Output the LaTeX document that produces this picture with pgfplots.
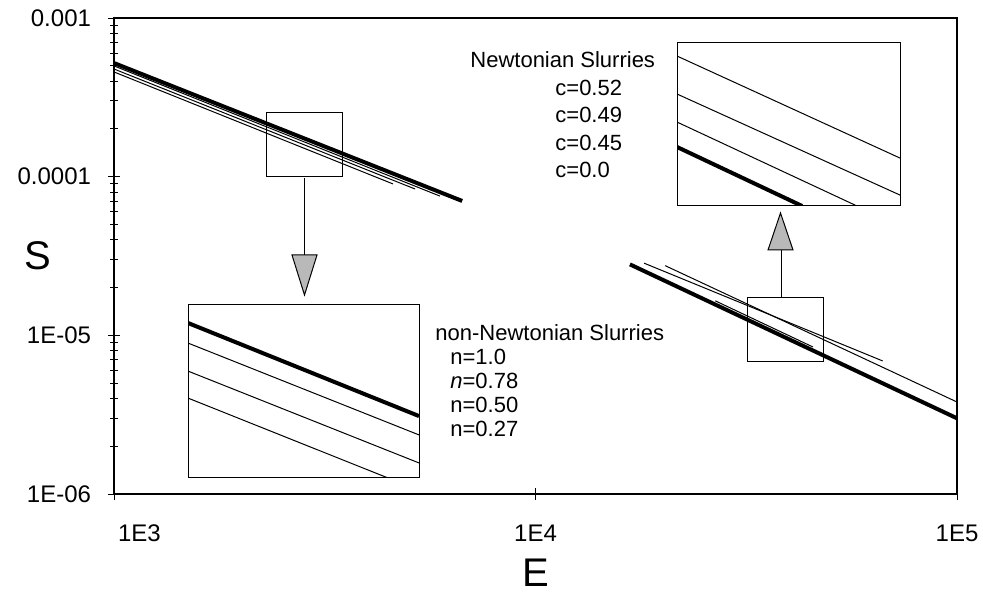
\documentclass[border=0pt]{standalone}
\usepackage{pgfplots}
\pgfplotsset{compat=1.18}
\usepackage{fontspec}
\setmainfont{Liberation Sans}
\begin{document}
\begin{tikzpicture}[x=0.5pt,y=0.5pt]
\useasboundingbox (-114,-99) rectangle (869,494);
\begin{axis}[
  at={(0pt,0pt)}, anchor=south west,
  scale only axis, width=421.5pt, height=238pt,
  xmode=log, ymode=log,
  xmin=1e3, xmax=1e5, ymin=1e-6, ymax=1e-3,
  xtick={1e3,1e4,1e5}, xticklabels={\makebox[0pt][l]{\hspace{2pt}1E3},1E4,1E5},
  ytick={1e-6,1e-5,1e-4,1e-3}, yticklabels={1E-06,1E-05,0.0001,0.001},
  xminorticks=false,
  tick align=center, xtick pos=bottom, ytick pos=left,
  major tick length=6pt, minor tick length=4pt,
  every tick/.style={black, line width=0.5pt},
  tick label style={font=\fontsize{12}{14}\selectfont},
  xticklabel style={yshift=-9pt},
  yticklabel style={xshift=-5pt},
  xlabel={E}, ylabel={S},
  xlabel style={font=\fontsize{20}{22}\selectfont, yshift=-1.5pt},
  ylabel style={font=\fontsize{20}{22}\selectfont, rotate=-90, at={(-0.09,0.5)}, anchor=center},
  axis line style={line width=0.7pt},
  clip=false,
]
% upper-left group (non-Newtonian)
\addplot[black, line width=0.5pt] coordinates {(1000,4.99e-4) (5930,7.55e-5)};
\addplot[black, line width=0.5pt] coordinates {(1000,4.77e-4) (5180,8.36e-5)};
\addplot[black, line width=0.5pt] coordinates {(1000,4.57e-4) (4590,9.0e-5)};
\addplot[black, line width=2pt] coordinates {(1000,5.2e-4) (6700,7.03e-5)};
% lower-right group (Newtonian)
\addplot[black, line width=2pt] coordinates {(16750,2.8e-5) (100000,3.0e-6)};
\addplot[black, line width=0.5pt] coordinates {(20300,2.75e-5) (100000,3.8e-6)};
\addplot[black, line width=0.5pt] coordinates {(18100,2.85e-5) (66600,6.9e-6)};
\addplot[black, line width=0.5pt] coordinates {(26700,1.65e-5) (45500,8.45e-6)};
% small boxes
\draw[line width=0.5pt] (axis cs:2296,1e-4) rectangle (axis cs:3475,2.52e-4);
\draw[line width=0.5pt] (axis cs:31800,6.8e-6) rectangle (axis cs:48100,1.72e-5);
\end{axis}
% arrows
\draw[line width=0.5pt] (190,316) -- (190,239);
\draw[line width=0.5pt, fill=gray!55] (178,239) -- (203,239) -- (190.5,199) -- cycle;
\draw[line width=0.5pt] (667,196) -- (667,244);
\draw[line width=0.5pt, fill=gray!55] (654,244) -- (679,244) -- (666.5,281) -- cycle;
% lower-left inset
\begin{axis}[
  at={(37pt,8pt)}, anchor=south west,
  scale only axis, width=115.5pt, height=86.5pt,
  xmin=0, xmax=1, ymin=0, ymax=1, ticks=none,
  axis line style={line width=0.5pt}, clip=true,
]
\addplot[black, line width=2pt] coordinates {(0,0.896) (1,0.358)};
\addplot[black, line width=0.5pt] coordinates {(0,0.780) (1,0.249)};
\addplot[black, line width=0.5pt] coordinates {(0,0.618) (1,0.087)};
\addplot[black, line width=0.5pt] coordinates {(0,0.462) (0.866,0)};
\end{axis}
% upper-right inset
\begin{axis}[
  at={(281.5pt,144pt)}, anchor=south west,
  scale only axis, width=111.5pt, height=81.5pt,
  xmin=0, xmax=1, ymin=0, ymax=1, ticks=none,
  axis line style={line width=0.5pt}, clip=true,
]
\addplot[black, line width=0.5pt] coordinates {(0,0.920) (1,0.294)};
\addplot[black, line width=0.5pt] coordinates {(0,0.687) (1,0.067)};
\addplot[black, line width=0.5pt] coordinates {(0,0.515) (0.807,0)};
\addplot[black, line width=2pt] coordinates {(0,0.362) (0.561,0)};
\end{axis}
% texts
\begin{scope}[every node/.style={font=\fontsize{11}{13}\selectfont, anchor=west, inner sep=0pt}]
\node at (356,434) {Newtonian Slurries};
\node at (441,406) {c=0.52};
\node at (441,379) {c=0.49};
\node at (441,351) {c=0.45};
\node at (441,324) {c=0.0};
\node at (321,161) {non-Newtonian Slurries};
\node at (336,137) {n=1.0};
\node at (336,113) {\textit{n}=0.78};
\node at (336,89) {n=0.50};
\node at (336,65) {n=0.27};
\end{scope}
\end{tikzpicture}
\end{document}
